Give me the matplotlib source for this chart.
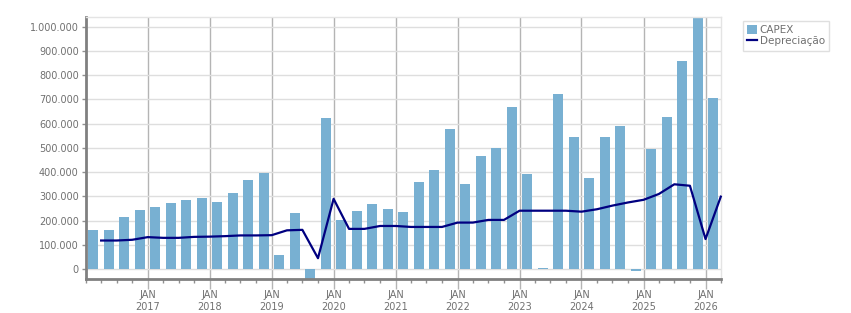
import matplotlib
matplotlib.use("Agg")
import matplotlib.pyplot as plt
import matplotlib.dates as mdates
import matplotlib.ticker as mticker
import pandas as pd

# quarterly CAPEX (bars, Q1 2016 .. Q1 2026)
quarters = pd.period_range("2016Q1", "2026Q1", freq="Q")
capex = [162000, 162000, 216000, 244000, 257000, 273000, 286000, 294000,
         277000, 314000, 368000, 397000, 59000, 232000, -50000, 623000,
         203000, 240000, 269000, 248000, 236000, 360000, 409000, 578000,
         352000, 467000, 500000, 669000, 393000, 3000, 723000, 545000,
         376000, 545000, 590000, -6000, 496000, 628000, 859000, 1060000,
         706000]

# depreciation (line, at quarter boundaries Apr 2016 .. Apr 2026)
depreciacao = [118000, 118000, 121000, 132000, 129000, 129000, 133000, 134000,
               136000, 139000, 139000, 140000, 160000, 162000, 45000, 290000,
               166000, 166000, 178000, 178000, 174000, 174000, 174000, 192000,
               192000, 203000, 203000, 241000, 241000, 241000, 241000, 237000,
               247000, 262000, 275000, 286000, 310000, 350000, 344000, 124000,
               299000]

bar_x = [(q.start_time + (q.end_time - q.start_time) / 2) for q in quarters]
line_x = [(q + 1).start_time for q in quarters]

text_col = "#707070"
plt.rcParams["font.family"] = "DejaVu Sans"
plt.rcParams["font.size"] = 7

fig = plt.figure(figsize=(8.51, 3.13), dpi=100)
ax = fig.add_axes([0.1007, 0.1077, 0.7463, 0.837])

bars = ax.bar(bar_x, capex, width=59, color="#78b0d2", label="CAPEX", zorder=2)
line, = ax.plot(line_x, depreciacao, color="#000080", linewidth=1.6,
                label="Depreciação", zorder=3, clip_on=False)

ax.set_xlim(pd.Timestamp("2016-01-01"), pd.Timestamp("2026-04-01"))
ax.set_ylim(-42000, 1039000)

years = [pd.Timestamp(f"{y}-01-01") for y in range(2017, 2027)]
ax.set_xticks(years)
ax.set_xticklabels([f"JAN\n{d.year}" for d in years])
ax.xaxis.set_minor_locator(mdates.MonthLocator(bymonth=(1, 4, 7, 10)))
ax.set_yticks(range(0, 1000001, 100000))
ax.yaxis.set_major_formatter(
    mticker.FuncFormatter(lambda v, p: f"{int(v):,}".replace(",", ".")))

ax.grid(axis="y", color="#dedede", linewidth=1, zorder=0)
ax.grid(axis="x", color="#b4b4b4", linewidth=1, zorder=0)
ax.set_axisbelow(True)

ax.tick_params(axis="x", which="major", length=7, width=1, color="#b4b4b4",
               colors=text_col, pad=1)
ax.tick_params(axis="x", which="minor", length=3, width=1, color="#909090")
ax.tick_params(axis="y", length=3, width=1, color="#909090", colors=text_col, pad=2)
ax.tick_params(axis="x", which="major", color="#b4b4b4")

for s in ["left", "bottom"]:
    ax.spines[s].set_color("#808080")
    ax.spines[s].set_linewidth(2)
for s in ["top", "right"]:
    ax.spines[s].set_color("#e4e4e4")
    ax.spines[s].set_linewidth(1)

leg = ax.legend([bars, line], ["CAPEX", "Depreciação"],
                loc="upper left", bbox_to_anchor=(1.035, 0.985), frameon=True,
                fancybox=False, edgecolor="#d8d8d8", labelcolor=text_col,
                handlelength=0.9, handleheight=0.9, handletextpad=0.3,
                borderpad=0.4, labelspacing=0.1, borderaxespad=0, fontsize=7.5)
leg.get_frame().set_linewidth(1)

fig.savefig("out.png", dpi=100)
